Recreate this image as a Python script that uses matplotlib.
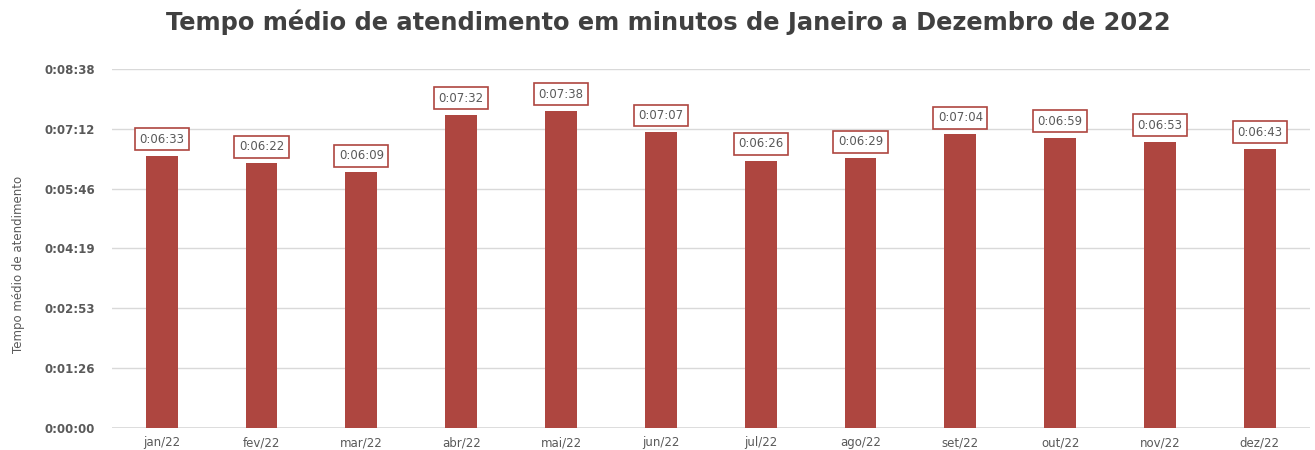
import matplotlib
matplotlib.use("Agg")
import matplotlib.pyplot as plt
from matplotlib.ticker import FuncFormatter, MultipleLocator

plt.rcParams['font.family'] = ['DejaVu Sans']

months = ["jan/22", "fev/22", "mar/22", "abr/22", "mai/22", "jun/22",
          "jul/22", "ago/22", "set/22", "out/22", "nov/22", "dez/22"]
# average service time, in seconds
avg_seconds = [393, 382, 369, 452, 458, 427, 386, 389, 424, 419, 413, 403]

BAR_COLOR = "#AE4640"
TEXT_COLOR = "#595959"


def fmt_time(sec, pos=None):
    sec = int(round(sec))
    return f"{sec // 3600}:{(sec % 3600) // 60:02d}:{sec % 60:02d}"


fig = plt.figure(figsize=(13.15, 4.5), dpi=100)
ax = fig.add_axes([0.085, 0.049, 0.911, 0.798])

x = range(len(months))
bars = ax.bar(x, avg_seconds, width=0.32, color=BAR_COLOR, zorder=3)

for xi, val in zip(x, avg_seconds):
    ax.annotate(fmt_time(val), (xi, val), xytext=(0, 12), textcoords="offset points",
                ha="center", va="center", fontsize=8.5, color=TEXT_COLOR,
                bbox=dict(boxstyle="square,pad=0.38", fc="white", ec=BAR_COLOR, lw=1.2),
                zorder=4)

ax.set_xlim(-0.5, len(months) - 0.5)
ax.set_ylim(0, 518.4)
ax.yaxis.set_major_locator(MultipleLocator(86.4))
ax.yaxis.set_major_formatter(FuncFormatter(fmt_time))
ax.set_xticks(list(x))
ax.set_xticklabels(months)

ax.grid(axis="y", color="#D9D9D9", lw=1, zorder=0)
ax.axhline(0, color="#D9D9D9", lw=1.2, zorder=1)
for s in ax.spines.values():
    s.set_visible(False)
ax.tick_params(axis="both", length=0)
ax.tick_params(axis="y", pad=12)
ax.tick_params(axis="x", pad=6)
for lbl in ax.get_yticklabels():
    lbl.set_fontweight("bold")
    lbl.set_fontsize(8.5)
    lbl.set_color(TEXT_COLOR)
for lbl in ax.get_xticklabels():
    lbl.set_fontsize(8.5)
    lbl.set_color(TEXT_COLOR)

ax.set_ylabel("Tempo médio de atendimento", fontsize=8.5, color=TEXT_COLOR)
ax.yaxis.set_label_coords(-0.0725, 0.455)

fig.suptitle("Tempo médio de atendimento em minutos de Janeiro a Dezembro de 2022",
             x=0.508, y=0.978, fontsize=17.4, fontweight="bold", color="#404040")

fig.savefig("out.png", dpi=100)
